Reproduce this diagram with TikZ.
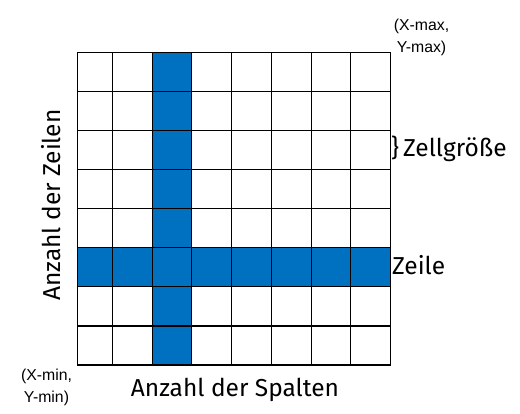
\documentclass[tikz,border=0pt]{standalone}
\usepackage{fontspec}
\newfontfamily\labelfont{Fira Sans}
\newfontfamily\cornerfont{Liberation Sans}
\definecolor{cellblue}{HTML}{0070C0}
\begin{document}
\begin{tikzpicture}[x=1pt,y=-1pt,
  gridline/.style={line width=1.2pt, draw=black, line cap=rect},
  bluecell/.style={fill=cellblue, draw=none},
  biglabel/.style={font=\labelfont\fontsize{24.5}{29}\selectfont, inner sep=0pt},
  cornerlabel/.style={font=\cornerfont\fontsize{15.8}{22}\selectfont, inner sep=0pt, align=center}]
\useasboundingbox (0,0) rectangle (520,414);
% blue cells
\fill[bluecell] (152.7,52.5) rectangle (191.7,365);
\fill[bluecell] (77.3,247.3) rectangle (390.3,286.3);
% grid
\foreach \x in {77.3,112.7,152.7,191.7,231.5,271.3,311.5,350.7,390.3}
  \draw[gridline] (\x,52.5) -- (\x,365);
\foreach \i in {0,...,8}
  \draw[gridline] (77.3,{52.5+39.0625*\i}) -- (390.3,{52.5+39.0625*\i});
% labels
\node[biglabel, anchor=base] (spalten) at (235,396.7) {Anzahl der Spalten};
\node[biglabel, anchor=base, rotate=90] (zeilen) at (60,205) {Anzahl der Zeilen};
\node[biglabel, anchor=base west] (zeile) at (392,275) {Zeile};
\node[biglabel, anchor=base west] (zellgr) at (391,156.7) {\}\,Zellgröße};
\node[cornerlabel, anchor=base] (maxlab) at (421.5,52.5) {(X-max,\\Y-max)};
\node[cornerlabel, anchor=base] (minlab) at (46.5,402.5) {(X-min,\\Y-min)};
\end{tikzpicture}
\end{document}
